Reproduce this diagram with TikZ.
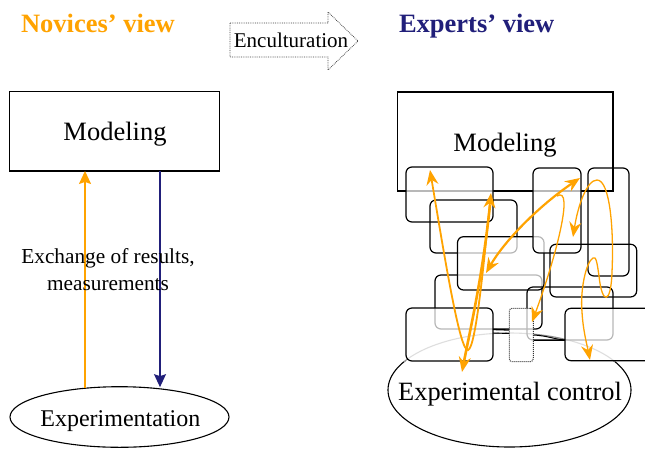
\documentclass[tikz,border=0pt]{standalone}
\usepackage{fontspec}
\setmainfont{Liberation Serif}
\usetikzlibrary{arrows.meta,calc,shapes.geometric}
\definecolor{orng}{RGB}{255,163,0}
\definecolor{navy}{RGB}{33,31,122}
\begin{document}
\begin{tikzpicture}[x=1pt,y=-1pt,
  rb/.style={draw=black, line width=1.2pt, rounded corners=6pt, inner sep=0pt, outer sep=0pt},
  rbf/.style={rb, fill=white, fill opacity=0.72},
  sq/.style={draw=black, line width=1.1pt, inner sep=0pt, outer sep=0pt},
  txt/.style={inner sep=0pt, outer sep=0pt},
  oline/.style={draw=orng, line width=1.8pt},
  othick/.style={draw=orng, line width=2.6pt},
  omid/.style={draw=orng, line width=2.2pt},
  othin/.style={draw=orng, line width=1.3pt},
  >={Stealth[length=15pt,width=12pt,inset=5pt]},
  bighead/.style={-{Stealth[length=13pt,width=12pt,inset=2pt]}}
]
\useasboundingbox (0,0) rectangle (645,448);
\fill[white] (0,0) rectangle (645,448);
\clip (0,0) rectangle (645,448);

% ---------- titles ----------
\node[txt, anchor=base west, text=orng, font=\bfseries\fontsize{26.5}{30}\selectfont] (tnov) at (21,32) {Novices’ view};
\node[txt, anchor=base west, text=navy, font=\bfseries\fontsize{26.5}{30}\selectfont] (texp) at (399,32) {Experts’ view};

% ---------- enculturation arrow ----------
\draw[black!75, line width=0.8pt, densely dotted]
  (230,23) -- (328,23) -- (328,12) -- (358,41) -- (328,70) -- (328,57) -- (230,57) -- cycle;
\node[txt, anchor=base, font=\fontsize{21}{24}\selectfont] (enc) at (291,47) {Enculturation};

% ---------- left side ----------
\node[sq, minimum width=209.7pt, minimum height=79.3pt] (mL) at (114.2,131.3) {};
\node[txt, anchor=base, font=\fontsize{26.5}{30}\selectfont] (tmL) at (115,140) {Modeling};
\node[draw, ellipse, line width=1.1pt, inner sep=0pt, minimum width=219pt, minimum height=60.6pt] (eL) at (119.5,417) {};
\node[txt, anchor=base, font=\fontsize{24}{28}\selectfont] (teL) at (120.4,426.7) {Experimentation};
\coordinate (xa) at (85,0);
\coordinate (xb) at (160,0);
\draw[orng, line width=1.4pt, bighead] ($(eL.north -| xa)+(0,1.5)$) -- (mL.south -| xa);
\draw[navy, line width=1.4pt, bighead] (mL.south -| xb) -- ($(eL.north -| xb)+(0,1)$);
\node[txt, anchor=north, align=center, font=\fontsize{21.3}{26.5}\selectfont] (exch) at (108,248.5) {Exchange of results,\\measurements};

% ---------- right side ----------
\node[txt, ellipse, minimum width=243pt, minimum height=114pt] (eR) at (509.5,390) {};
\begin{scope}
  \clip (380,361) rectangle (645,448);
  \draw[line width=1.1pt] (eR.center) ellipse [x radius=121.5pt, y radius=57pt];
\end{scope}
\begin{scope}
  \clip (380,300) rectangle (645,361);
  \draw[line width=1.1pt, black!45] (eR.center) ellipse [x radius=121.5pt, y radius=57pt];
\end{scope}
\node[txt, anchor=base, font=\fontsize{26.4}{30}\selectfont] (teR) at (510,400) {Experimental control};

\node[sq, minimum width=215.3pt, minimum height=99pt] (mR) at (505.35,141.5) {};
\node[txt, anchor=base, font=\fontsize{26.5}{30}\selectfont] (tmR) at (505,151) {Modeling};

\node[rbf, minimum width=87pt, minimum height=55pt] (r1) at (449.5,194.5) {};
\node[rb, minimum width=87pt, minimum height=53pt] (r2) at (473.5,226.5) {};
\node[rb, minimum width=107pt, minimum height=54pt] (r7) at (488.5,302) {};
\node[rbf, minimum width=86.5pt, minimum height=53.3pt] (r3) at (500.75,263.35) {};
\node[rbf, minimum width=48pt, minimum height=85pt] (r4) at (557,210.5) {};
\node[rb, minimum width=41pt, minimum height=108pt] (r5) at (608.5,222) {};
\node[rb, minimum width=86.7pt, minimum height=52.7pt] (r6) at (593.3,270.6) {};
\node[rb, minimum width=86pt, minimum height=53pt] (r8) at (570,313.5) {};
\node[rbf, minimum width=87pt, minimum height=53pt] (r9) at (449.5,334.5) {};
\node[draw=black!80, line width=1pt, densely dotted, rounded corners=3pt, fill=white, fill opacity=0.72, inner sep=0pt, minimum width=24pt, minimum height=53.4pt] (rd) at (521.3,335) {};
\node[rbf, minimum width=105pt, minimum height=52.4pt] (r10) at (617.5,334.5) {};

\draw[line width=1.3pt] ([yshift=5pt]r9.east) -- ([yshift=5pt]rd.west);
\draw[line width=0.9pt] ([yshift=1.5pt]r9.east) -- ([yshift=1.5pt]rd.west);
\draw[line width=1pt] (rd.east) .. controls +(15,1) and +(-12,-1) .. ([yshift=-5.5pt]r10.west);
\draw[line width=1pt] ([yshift=-5pt]rd.east) -- ([yshift=-5.5pt]r10.west);

% ---------- orange exchanges ----------
\coordinate (u1) at (430,170);
\coordinate (u2) at (491,193);
\coordinate (y1) at (490,205);
\coordinate (y2) at (462,372);
\coordinate (d1) at (486,273);
\coordinate (d2) at (580,178);
\coordinate (e1) at (557,196);
\coordinate (e2) at (532,322);
\coordinate (f1) at (573,237);
\coordinate (f2) at (590,360);

\draw[oline, <->] (u1) .. controls (445,260) and (460,352) .. (468,350) .. controls (476,348) and (484,260) .. (u2);
\draw[othick, ->] (y1) .. controls (482,280) and (470,330) .. (y2);
\draw[omid, <->] (d1) .. controls (505,240) and (540,205) .. (d2);
\draw[othin, ->] (e1) .. controls (575,185) and (555,260) .. (e2);
\draw[othin, <->] (f1) .. controls (578,205) and (587,180) .. (597,180)
  .. controls (610,180) and (614,230) .. (612,272)
  .. controls (611,305) and (602,305) .. (599,276)
  .. controls (597,262) and (596,256) .. (593,258)
  .. controls (586,262) and (580,290) .. (582,312)
  .. controls (583,330) and (587,345) .. (f2);
\end{tikzpicture}
\end{document}
